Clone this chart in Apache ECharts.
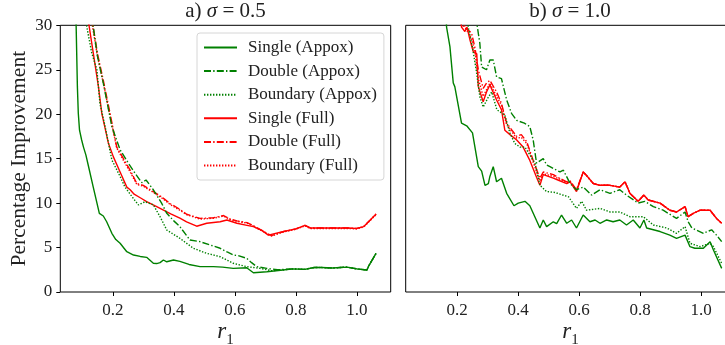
<!DOCTYPE html>
<html>
<head>
<meta charset="utf-8">
<script src="https://cdn.jsdelivr.net/npm/echarts@6/dist/echarts.min.js"></script>
<style>
html,body{margin:0;padding:0;background:#fff;}
#chart{width:725px;height:345px;}
</style>
</head>
<body>
<div id="chart"></div>
<script>
// ---------- DATA ----------
const seriesNames = ['Single (Appox)', 'Double (Appox)', 'Boundary (Appox)', 'Single (Full)', 'Double (Full)', 'Boundary (Full)'];
const panelTitles = [['a) ', 'σ', ' = 0.5'], ['b) ', 'σ', ' = 1.0']];
const yTicks = [0, 5, 10, 15, 20, 25, 30];
const xTickLabels = ['0.2', '0.4', '0.6', '0.8', '1.0'];

// Panel a) sigma = 0.5   [r1, percentage improvement]
const aSingleAppox = [[0.074,38],[0.080,29.8],[0.084,23.1],[0.087,20.1],[0.091,18.2],[0.098,17.1],[0.104,16.3],[0.112,15.4],[0.120,14.2],[0.136,11.8],[0.156,8.85],[0.169,8.55],[0.180,7.9],[0.197,6.6],[0.210,5.9],[0.224,5.48],[0.246,4.53],[0.268,4.16],[0.290,4.0],[0.311,3.9],[0.333,3.23],[0.344,3.2],[0.355,3.3],[0.366,3.6],[0.377,3.4],[0.399,3.6],[0.420,3.45],[0.450,3.1],[0.486,2.85],[0.530,2.85],[0.560,2.8],[0.595,2.66],[0.639,2.73],[0.661,2.17],[0.705,2.28],[0.750,2.45],[0.792,2.6],[0.830,2.55],[0.860,2.75],[0.885,2.75],[0.920,2.7],[0.967,2.8],[1.000,2.6],[1.033,2.47],[1.040,3.0],[1.063,4.35]];
const aDoubleAppox = [[0.128,31],[0.136,29.8],[0.150,26.5],[0.169,23.5],[0.197,18.6],[0.224,16.0],[0.251,14.5],[0.273,13.35],[0.295,12.3],[0.309,12.6],[0.333,11.5],[0.360,10.0],[0.377,8.85],[0.400,8.0],[0.420,7.35],[0.453,5.85],[0.486,5.66],[0.519,5.29],[0.552,4.92],[0.575,4.5],[0.595,4.16],[0.610,4.1],[0.639,3.79],[0.655,3.3],[0.672,2.85],[0.705,2.66],[0.740,2.5],[0.792,2.6],[0.830,2.55],[0.860,2.75],[0.885,2.75],[0.920,2.7],[0.967,2.8],[1.000,2.6],[1.033,2.47],[1.040,3.0],[1.063,4.35]];
const aBoundaryAppox = [[0.110,31],[0.115,29.8],[0.131,26.9],[0.148,25.0],[0.158,21.2],[0.175,18.6],[0.197,14.85],[0.224,13.0],[0.240,11.8],[0.268,10.5],[0.284,9.8],[0.306,10.16],[0.333,9.8],[0.355,8.47],[0.377,6.97],[0.420,6.04],[0.464,4.92],[0.508,4.35],[0.552,3.97],[0.595,3.23],[0.639,2.85],[0.683,2.66],[0.720,2.4],[0.750,2.45],[0.792,2.6],[0.830,2.55],[0.860,2.75],[0.885,2.75],[0.920,2.7],[0.967,2.8],[1.000,2.6],[1.033,2.47],[1.040,3.0],[1.063,4.35]];
const aSingleFull = [[0.118,31],[0.123,29.8],[0.136,26.9],[0.153,23.1],[0.164,20.1],[0.186,16.7],[0.202,15.2],[0.224,13.5],[0.246,11.8],[0.257,11.5],[0.270,11.0],[0.290,10.6],[0.311,10.16],[0.344,9.6],[0.390,8.8],[0.420,8.3],[0.442,7.9],[0.475,7.4],[0.508,7.73],[0.552,7.9],[0.574,8.1],[0.607,7.73],[0.640,7.5],[0.661,7.35],[0.690,6.9],[0.710,6.4],[0.760,6.8],[0.800,7.1],[0.830,7.5],[0.847,7.2],[0.880,7.2],[0.930,7.2],[0.970,7.2],[1.000,7.15],[1.022,7.35],[1.044,8.1],[1.063,8.77]];
const aDoubleFull = [[0.130,31],[0.136,29.8],[0.150,26.8],[0.169,23.8],[0.191,20.1],[0.213,16.3],[0.235,15.0],[0.257,13.7],[0.279,12.2],[0.300,12.0],[0.333,11.3],[0.360,10.7],[0.390,9.9],[0.420,9.3],[0.442,8.75],[0.486,8.28],[0.530,8.35],[0.563,8.6],[0.585,8.2],[0.607,8.0],[0.640,7.8],[0.661,7.45],[0.690,6.9],[0.705,6.6],[0.720,6.35],[0.760,6.8],[0.800,7.1],[0.830,7.5],[0.847,7.2],[0.880,7.2],[0.930,7.2],[0.970,7.2],[1.000,7.15],[1.022,7.35],[1.044,8.1],[1.063,8.77]];
const aBoundaryFull = [[0.128,31],[0.134,29.8],[0.150,26.5],[0.169,23.5],[0.191,19.8],[0.213,16.2],[0.235,14.8],[0.257,13.5],[0.279,12.1],[0.300,11.9],[0.333,11.2],[0.360,10.6],[0.390,9.8],[0.420,9.2],[0.442,8.7],[0.486,8.2],[0.530,8.3],[0.563,8.55],[0.585,8.15],[0.607,7.95],[0.640,7.75],[0.661,7.4],[0.690,6.85],[0.705,6.55],[0.720,6.3],[0.760,6.75],[0.800,7.05],[0.830,7.45],[0.847,7.15],[0.880,7.15],[0.930,7.15],[0.970,7.15],[1.000,7.1],[1.022,7.3],[1.044,8.05],[1.063,8.7]];

// Panel b) sigma = 1.0
const bSingleAppox = [[0.160,33],[0.165,29.8],[0.176,27.6],[0.187,23.5],[0.192,23.1],[0.198,23.3],[0.214,19.0],[0.231,18.7],[0.250,17.9],[0.269,14.1],[0.280,13.6],[0.291,12.0],[0.302,12.2],[0.307,13.0],[0.318,14.1],[0.329,12.4],[0.345,12.8],[0.362,11.1],[0.386,9.7],[0.400,10.0],[0.422,10.2],[0.438,9.7],[0.471,7.2],[0.482,8.1],[0.493,7.35],[0.515,7.9],[0.526,7.7],[0.542,8.66],[0.559,7.73],[0.575,8.1],[0.591,7.2],[0.613,8.66],[0.635,7.9],[0.652,8.1],[0.668,7.73],[0.690,8.1],[0.711,7.9],[0.733,8.1],[0.755,7.54],[0.777,8.1],[0.799,7.2],[0.812,8.1],[0.821,7.2],[0.865,6.8],[0.897,6.4],[0.919,6.04],[0.947,6.4],[0.963,5.1],[0.979,4.92],[1.007,4.92],[1.029,5.66],[1.040,4.72],[1.067,2.66]];
const bDoubleAppox = [[0.262,31],[0.266,29.8],[0.274,28.0],[0.280,25.3],[0.296,25.0],[0.307,26.1],[0.318,26.1],[0.329,24.2],[0.345,24.0],[0.362,21.6],[0.378,20.1],[0.395,19.3],[0.420,19.0],[0.438,18.6],[0.449,17.1],[0.460,14.5],[0.482,15.0],[0.493,14.3],[0.504,14.1],[0.537,13.5],[0.548,13.7],[0.570,12.2],[0.591,11.5],[0.613,11.8],[0.641,10.9],[0.668,11.5],[0.701,11.1],[0.733,11.5],[0.755,10.9],[0.793,10.0],[0.815,10.2],[0.843,9.6],[0.875,9.2],[0.919,8.28],[0.947,9.0],[0.957,7.9],[0.969,7.2],[1.007,6.6],[1.034,7.0],[1.050,6.4],[1.067,5.66]];
const bBoundaryAppox = [[0.232,31],[0.236,29.8],[0.250,27.5],[0.262,25.0],[0.274,22.0],[0.285,20.8],[0.300,21.8],[0.313,22.5],[0.330,20.5],[0.356,19.9],[0.373,17.85],[0.389,16.7],[0.406,16.3],[0.422,16.3],[0.455,14.5],[0.471,12.0],[0.477,11.85],[0.493,11.3],[0.520,11.2],[0.565,10.7],[0.591,9.4],[0.608,10.2],[0.624,9.2],[0.668,9.4],[0.701,9.0],[0.733,9.0],[0.766,8.47],[0.810,8.47],[0.843,7.54],[0.887,7.2],[0.919,6.6],[0.947,7.35],[0.963,5.48],[0.996,5.1],[1.029,5.48],[1.040,5.1],[1.067,3.23]];
const bSingleFull = [[0.210,31],[0.214,29.8],[0.225,29.3],[0.232,29.8],[0.242,28.3],[0.253,27.0],[0.264,26.8],[0.269,23.1],[0.285,21.4],[0.296,22.5],[0.307,23.3],[0.329,21.6],[0.345,20.5],[0.356,18.2],[0.373,17.7],[0.395,17.1],[0.416,16.3],[0.438,14.8],[0.460,12.9],[0.471,12.0],[0.482,13.2],[0.515,12.8],[0.530,12.6],[0.559,12.2],[0.570,12.4],[0.591,11.3],[0.613,13.5],[0.624,13.1],[0.646,12.2],[0.668,12.0],[0.701,12.0],[0.733,11.8],[0.750,12.4],[0.766,11.1],[0.793,10.2],[0.812,10.9],[0.826,10.35],[0.865,10.0],[0.897,9.2],[0.919,9.0],[0.947,9.6],[0.957,8.47],[0.974,8.85],[0.996,9.2],[1.029,9.2],[1.050,8.28],[1.067,7.73]];
const bDoubleFull = [[0.216,31],[0.220,29.8],[0.235,29.5],[0.247,29.1],[0.258,27.5],[0.269,25.0],[0.285,22.9],[0.296,23.5],[0.307,23.8],[0.329,22.5],[0.345,21.2],[0.362,19.0],[0.395,17.5],[0.410,17.7],[0.428,16.9],[0.449,14.8],[0.471,12.8],[0.482,13.5],[0.515,13.2],[0.530,12.9],[0.559,12.4],[0.570,12.5],[0.591,11.5],[0.613,13.5],[0.624,13.1],[0.646,12.2],[0.668,12.0],[0.701,12.0],[0.733,11.8],[0.750,12.4],[0.766,11.1],[0.793,10.2],[0.812,10.9],[0.826,10.35],[0.865,10.0],[0.897,9.2],[0.919,9.0],[0.947,9.6],[0.957,8.47],[0.974,8.85],[0.996,9.2],[1.029,9.2],[1.050,8.28],[1.067,7.73]];
const bBoundaryFull = [[0.220,31],[0.225,29.8],[0.247,28.5],[0.258,27.0],[0.269,24.0],[0.285,22.0],[0.307,23.5],[0.329,22.0],[0.345,21.0],[0.362,18.8],[0.395,17.3],[0.410,17.4],[0.428,16.7],[0.449,14.6],[0.471,12.5],[0.482,13.3],[0.515,13.0],[0.530,12.8],[0.559,12.3],[0.570,12.4],[0.591,11.4],[0.613,13.5],[0.624,13.1],[0.646,12.2],[0.668,12.0],[0.701,12.0],[0.733,11.8],[0.750,12.4],[0.766,11.1],[0.793,10.2],[0.812,10.9],[0.826,10.35],[0.865,10.0],[0.897,9.2],[0.919,9.0],[0.947,9.6],[0.957,8.47],[0.974,8.85],[0.996,9.2],[1.029,9.2],[1.050,8.28],[1.067,7.73]];

// ---------- STYLE ----------
const FONT = 'Liberation Serif';
const GREEN = '#008000', RED = '#ff0000';
const LW = 1.4;
const DASHDOT = [7, 2.2, 1.4, 2.2];
const DOTTED = [1.4, 1.6];
const styles = [
  {color: GREEN, type: 'solid'},
  {color: GREEN, type: DASHDOT},
  {color: GREEN, type: DOTTED},
  {color: RED, type: 'solid'},
  {color: RED, type: DASHDOT},
  {color: RED, type: DOTTED}
];
const panelData = [
  [aSingleAppox, aDoubleAppox, aBoundaryAppox, aSingleFull, aDoubleFull, aBoundaryFull],
  [bSingleAppox, bDoubleAppox, bBoundaryAppox, bSingleFull, bDoubleFull, bBoundaryFull]
];

const chart = echarts.init(document.getElementById('chart'), null, {renderer: 'canvas'});

const series = [];
panelData.forEach((arr, p) => {
  arr.forEach((data, i) => {
    series.push({
      name: seriesNames[i],
      type: 'line',
      xAxisIndex: p, yAxisIndex: p,
      data: data,
      showSymbol: false, symbol: 'none',
      clip: true,
      animation: false,
      color: styles[i].color,
      lineStyle: {color: styles[i].color, width: LW, type: styles[i].type},
      z: 10 - i
    });
  });
});

const xLabelFmt = v => {
  const s = v.toFixed(1);
  return xTickLabels.indexOf(s) >= 0 && Math.abs(v * 5 - Math.round(v * 5)) < 1e-6 ? s : '';
};

function xAxisCfg(idx, min, max) {
  return {
    type: 'value', gridIndex: idx, min: min, max: max, splitNumber: 5,
    axisLine: {show: false},
    axisTick: {show: true, length: 4, lineStyle: {color: '#000', width: 1}},
    splitLine: {show: false},
    axisLabel: {fontFamily: FONT, fontSize: 17, color: '#222', margin: 10, showMinLabel: false, showMaxLabel: false, formatter: xLabelFmt},
    name: '{i|r}{s|1}', nameLocation: 'middle', nameGap: 28, nameMoveOverlap: false,
    nameTextStyle: {
      rich: {
        i: {fontFamily: FONT, fontStyle: 'italic', fontSize: 23, color: '#222', padding: [0, 0, 5, 0], verticalAlign: 'bottom'},
        s: {fontFamily: FONT, fontSize: 15, color: '#222', verticalAlign: 'bottom'}
      }
    }
  };
}
function yAxisCfg(idx, showLabels) {
  return {
    type: 'value', gridIndex: idx, min: yTicks[0], max: yTicks[yTicks.length - 1], interval: 5,
    axisLine: {show: false},
    axisTick: {show: showLabels, length: 4, lineStyle: {color: '#000', width: 1}},
    splitLine: {show: false},
    axisLabel: {show: showLabels, fontFamily: FONT, fontSize: 17, color: '#222', margin: 8},
    name: showLabels ? 'Percentage Improvement' : '',
    nameLocation: 'middle', nameGap: 30, nameMoveOverlap: false,
    nameTextStyle: {fontFamily: FONT, fontSize: 21.5, color: '#222'}
  };
}

const titleRich = {
  n: {fontFamily: FONT, fontSize: 21, fontWeight: 'normal', color: '#222'},
  i: {fontFamily: FONT, fontSize: 21, fontWeight: 'normal', fontStyle: 'italic', color: '#222'}
};

chart.setOption({
  backgroundColor: '#fff',
  animation: false,
  title: [
    {text: '{n|' + panelTitles[0][0] + '}{i|' + panelTitles[0][1] + '}{n|' + panelTitles[0][2] + '}', left: 225.5, textAlign: 'center', top: 1, padding: 0, textStyle: {fontWeight: 'normal', rich: titleRich}},
    {text: '{n|' + panelTitles[1][0] + '}{i|' + panelTitles[1][1] + '}{n|' + panelTitles[1][2] + '}', left: 570, textAlign: 'center', top: 1, padding: 0, textStyle: {fontWeight: 'normal', rich: titleRich}}
  ],
  grid: [
    {left: 60.3, top: 25.3, width: 330.4, height: 266.7, show: true, borderColor: '#000', borderWidth: 1, backgroundColor: 'transparent', containLabel: false, outerBoundsMode: 'none'},
    {left: 405.7, top: 25.3, width: 329.4, height: 266.7, show: true, borderColor: '#000', borderWidth: 1, backgroundColor: 'transparent', containLabel: false, outerBoundsMode: 'none'}
  ],
  xAxis: [xAxisCfg(0, 0.028, 1.111), xAxisCfg(1, 0.031, 1.111)],
  yAxis: [yAxisCfg(0, true), yAxisCfg(1, false)],
  legend: {
    data: seriesNames,
    orient: 'vertical',
    left: 197, top: 33,
    itemWidth: 33, itemHeight: 14, itemGap: 6.6,
    padding: [6, 7, 6, 6],
    borderColor: '#d6d6d6', borderWidth: 1, borderRadius: 3,
    backgroundColor: 'rgba(255,255,255,0.8)',
    selectedMode: false,
    itemStyle: {color: 'transparent', borderColor: 'transparent', borderWidth: 0},
    textStyle: {fontFamily: FONT, fontSize: 17, color: '#222', lineHeight: 17, padding: [0, 0, 0, 6]}
  },
  series: series
});
</script>
</body>
</html>
